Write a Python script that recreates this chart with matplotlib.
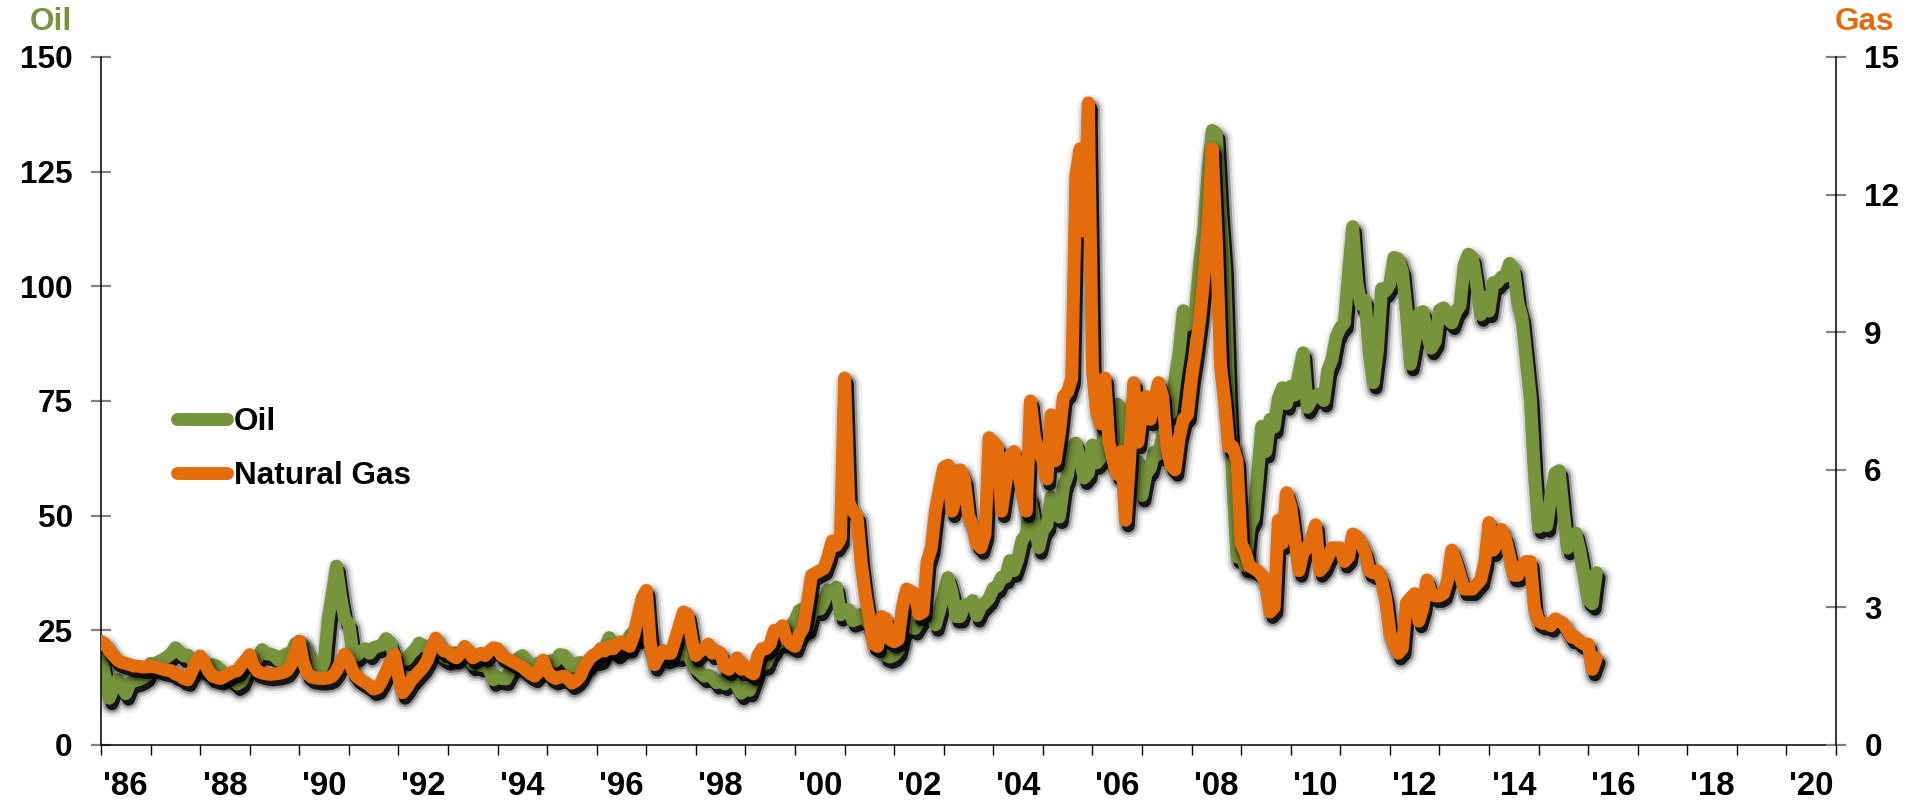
import numpy as np
import matplotlib
matplotlib.use("Agg")
import matplotlib.pyplot as plt
import matplotlib.patheffects as pe
from matplotlib.lines import Line2D
from matplotlib import font_manager

# monthly prices, Jan 1986 .. Mar 2016
start_year = 1986

oil = [
    19.8, 15.0, 10.2, 12.5, 14.3, 12.8, 11.2, 13.5, 14.0, 14.2, 14.6, 15.2,   # 1986
    17.8, 17.6, 18.2, 18.6, 19.2, 19.9, 21.2, 20.3, 19.4, 19.6, 18.6, 17.3,   # 1987
    16.9, 16.6, 16.1, 17.5, 17.2, 16.3, 15.3, 15.2, 14.2, 13.3, 13.9, 16.0,   # 1988
    17.8, 17.7, 19.3, 20.8, 19.9, 19.8, 19.5, 18.4, 19.4, 19.9, 19.7, 22.0,   # 1989
    22.6, 21.8, 20.0, 18.0, 17.6, 16.2, 18.0, 27.5, 33.0, 39.0, 32.5, 27.5,   # 1990
    26.5, 20.0, 19.6, 20.5, 21.0, 20.0, 21.2, 21.5, 21.8, 23.2, 22.3, 19.3,   # 1991
    18.6, 18.8, 18.7, 20.0, 20.8, 22.2, 21.6, 21.2, 21.7, 21.5, 20.1, 19.2,   # 1992
    18.8, 19.9, 20.1, 20.0, 19.7, 18.8, 17.6, 17.8, 17.3, 17.9, 16.3, 14.2,   # 1993
    14.8, 14.5, 14.4, 16.2, 17.7, 18.9, 19.5, 18.2, 17.2, 17.5, 17.9, 17.0,   # 1994
    17.9, 18.4, 18.3, 19.7, 19.6, 18.2, 17.1, 17.8, 18.0, 17.2, 17.8, 18.9,   # 1995
    18.7, 19.0, 21.2, 23.4, 21.0, 20.2, 21.1, 21.7, 23.8, 24.7, 23.5, 25.0,   # 1996
    25.0, 22.0, 20.8, 19.5, 20.6, 19.1, 19.5, 19.8, 19.6, 21.1, 20.0, 18.2,   # 1997
    16.6, 15.9, 15.0, 15.2, 14.8, 13.6, 14.0, 13.3, 14.9, 14.3, 12.8, 11.3,   # 1998
    12.4, 11.9, 14.5, 17.2, 17.6, 17.8, 20.0, 21.2, 23.7, 22.5, 24.9, 26.0,   # 1999
    27.2, 29.3, 29.7, 25.6, 28.7, 31.7, 29.6, 31.2, 33.8, 33.0, 34.4, 28.4,   # 2000
    29.5, 29.5, 27.1, 27.4, 28.5, 27.5, 26.3, 27.2, 26.0, 22.0, 19.5, 19.2,   # 2001
    19.6, 20.6, 24.4, 26.0, 27.0, 25.4, 26.9, 28.3, 29.6, 28.7, 26.2, 29.4,   # 2002
    32.9, 36.5, 33.4, 28.0, 28.0, 30.5, 30.6, 31.5, 28.2, 30.2, 31.0, 32.0,   # 2003
    34.2, 34.6, 36.6, 36.6, 40.2, 38.0, 40.7, 44.8, 45.9, 53.8, 48.4, 43.0,   # 2004
    46.7, 48.0, 54.1, 52.9, 49.7, 56.3, 58.9, 64.9, 65.8, 62.2, 58.2, 59.3,   # 2005
    65.4, 61.5, 62.6, 69.3, 70.8, 70.8, 74.3, 73.0, 63.7, 58.8, 59.0, 61.9,   # 2006
    54.4, 59.2, 60.3, 63.9, 63.4, 67.4, 74.0, 72.3, 79.8, 85.7, 94.7, 91.6,   # 2007
    92.9, 95.3, 105.4, 112.5, 125.3, 134.0, 133.3, 116.6, 104.0, 76.5, 57.2, 41.0,  # 2008
    41.6, 39.0, 47.8, 49.5, 59.0, 69.5, 64.0, 71.0, 69.3, 75.6, 77.9, 74.4,   # 2009
    78.2, 76.3, 81.1, 85.5, 73.6, 75.2, 76.2, 76.5, 75.1, 81.8, 84.1, 89.0,   # 2010
    91.0, 92.0, 103.0, 113.0, 101.0, 96.0, 97.0, 86.0, 79.0, 86.0, 99.5, 99.0,  # 2011
    100.5, 106.3, 106.0, 103.5, 94.5, 83.0, 88.0, 94.0, 94.5, 89.5, 86.5, 88.0,  # 2012
    94.8, 95.3, 93.0, 92.0, 94.5, 95.8, 104.7, 107.0, 106.3, 100.5, 93.8, 97.6,  # 2013
    94.6, 100.8, 100.8, 102.0, 102.2, 105.0, 103.6, 96.5, 93.2, 84.4, 75.8, 59.3,  # 2014
    47.5, 50.6, 47.8, 54.5, 59.3, 59.8, 50.9, 42.9, 45.5, 46.2, 42.4, 37.2,   # 2015
    31.7, 30.8, 37.6,                                                         # 2016
]

gas = [
    2.26, 2.20, 2.05, 1.95, 1.85, 1.80, 1.78, 1.75, 1.72, 1.72, 1.70, 1.70,   # 1986
    1.72, 1.70, 1.68, 1.65, 1.63, 1.62, 1.55, 1.52, 1.45, 1.42, 1.60, 1.80,   # 1987
    1.94, 1.80, 1.62, 1.50, 1.47, 1.45, 1.50, 1.55, 1.60, 1.62, 1.75, 1.85,   # 1988
    1.97, 1.72, 1.60, 1.57, 1.55, 1.54, 1.55, 1.56, 1.58, 1.62, 1.75, 2.00,   # 1989
    2.26, 1.80, 1.55, 1.48, 1.46, 1.45, 1.45, 1.46, 1.50, 1.62, 1.80, 1.98,   # 1990
    1.85, 1.60, 1.48, 1.42, 1.36, 1.30, 1.22, 1.25, 1.40, 1.60, 1.80, 1.97,   # 1991
    1.50, 1.14, 1.25, 1.40, 1.50, 1.60, 1.70, 1.85, 2.10, 2.33, 2.15, 2.05,   # 1992
    2.04, 1.95, 1.90, 2.00, 2.15, 2.05, 1.90, 1.95, 2.00, 1.95, 2.05, 2.12,   # 1993
    2.10, 1.95, 1.90, 1.85, 1.80, 1.75, 1.70, 1.62, 1.55, 1.50, 1.60, 1.85,   # 1994
    1.62, 1.50, 1.45, 1.48, 1.50, 1.45, 1.35, 1.40, 1.50, 1.70, 1.85, 1.95,   # 1995
    2.00, 2.10, 2.05, 2.15, 2.10, 2.20, 2.25, 2.20, 2.15, 2.40, 2.80, 3.20,   # 1996
    3.37, 2.20, 1.75, 1.92, 2.05, 2.00, 2.00, 2.30, 2.60, 2.90, 2.85, 2.30,   # 1997
    1.95, 2.05, 2.10, 2.20, 2.00, 2.05, 2.00, 1.70, 1.65, 1.75, 1.90, 1.65,   # 1998
    1.72, 1.60, 1.55, 1.95, 2.10, 2.10, 2.20, 2.50, 2.50, 2.60, 2.30, 2.20,   # 1999
    2.15, 2.40, 2.55, 3.10, 3.70, 3.75, 3.80, 3.85, 4.10, 4.45, 4.35, 4.50,   # 2000
    8.00, 5.30, 5.10, 5.00, 4.00, 3.30, 2.75, 2.20, 2.15, 2.80, 2.75, 2.30,   # 2001
    2.25, 2.30, 3.00, 3.40, 3.35, 3.30, 2.85, 2.90, 4.00, 4.30, 5.10, 5.60,   # 2002
    6.05, 6.10, 5.10, 5.40, 6.00, 5.80, 5.00, 4.80, 4.40, 4.30, 4.60, 6.70,   # 2003
    6.60, 6.50, 5.10, 5.70, 6.30, 6.40, 6.00, 5.50, 5.10, 7.50, 6.70, 6.40,   # 2004
    6.20, 5.80, 7.20, 6.20, 6.80, 7.60, 7.70, 8.00, 12.40, 13.00, 11.20, 14.00,  # 2005
    8.20, 7.30, 7.00, 8.00, 6.60, 6.20, 5.90, 6.40, 4.90, 6.20, 7.90, 6.60,   # 2006
    7.30, 7.60, 7.10, 7.50, 7.90, 7.60, 6.50, 6.10, 6.00, 6.70, 7.10, 7.20,   # 2007
    8.00, 8.60, 9.30, 10.20, 11.30, 13.00, 11.00, 8.30, 7.50, 6.50, 6.50, 6.20,  # 2008
    4.40, 4.20, 3.90, 3.85, 3.80, 3.70, 3.50, 2.90, 3.00, 4.90, 4.40, 5.50,   # 2009
    5.20, 4.50, 3.80, 4.20, 4.30, 4.50, 4.80, 3.80, 3.90, 4.10, 4.30, 4.30,   # 2010
    4.30, 4.00, 4.10, 4.60, 4.55, 4.40, 4.20, 3.80, 3.75, 3.80, 3.60, 3.20,   # 2011
    2.45, 2.20, 2.00, 2.10, 3.10, 3.20, 3.30, 2.70, 3.00, 3.60, 3.30, 3.25,   # 2012
    3.25, 3.30, 3.60, 4.25, 4.00, 3.70, 3.40, 3.40, 3.40, 3.50, 3.60, 4.00,   # 2013
    4.85, 4.25, 4.40, 4.70, 4.50, 4.10, 3.70, 3.70, 3.90, 4.00, 4.00, 3.00,   # 2014
    2.70, 2.65, 2.65, 2.60, 2.75, 2.70, 2.65, 2.50, 2.35, 2.35, 2.25, 2.20,   # 2015
    2.20, 1.65, 1.90,                                                         # 2016
]

oil_ticks = [0, 25, 50, 75, 100, 125, 150]
gas_ticks = [0, 3, 6, 9, 12, 15]
year_labels = list(range(1986, 2021, 2))

OIL_C = "#77933C"
GAS_C = "#E46C0A"
LW = 9.3

plt.rcParams["font.family"] = ["Liberation Sans", "DejaVu Sans"]
plt.rcParams["font.weight"] = "bold"
FS = 22.7

# the year labels are in a condensed face
names = {f.name for f in font_manager.fontManager.ttflist}
if "Liberation Sans Narrow" in names:
    XFONT, XFS = ["Liberation Sans Narrow", "Liberation Sans"], 25.5
else:
    XFONT, XFS = ["Liberation Sans", "DejaVu Sans"], 23.8


def shadow():
    # stacked strokes fake the soft drop shadow
    off = (2.0, -4.0)
    return [pe.SimpleLineShadow(offset=off, shadow_color="black", alpha=0.06, linewidth=LW + 11),
            pe.SimpleLineShadow(offset=off, shadow_color="black", alpha=0.12, linewidth=LW + 7),
            pe.SimpleLineShadow(offset=off, shadow_color="black", alpha=0.28, linewidth=LW + 3.5),
            pe.SimpleLineShadow(offset=off, shadow_color="black", alpha=0.85, linewidth=LW),
            pe.Normal()]


t_oil = start_year + np.arange(len(oil)) / 12.0
t_gas = start_year + np.arange(len(gas)) / 12.0

fig = plt.figure(figsize=(19.07, 8.01), dpi=100)
ax = fig.add_axes([101 / 1907, 56 / 801, (1836 - 101) / 1907, (745 - 57) / 801])
ax2 = ax.twinx()

ax.plot(t_oil, oil, color=OIL_C, lw=LW, solid_capstyle="round",
        solid_joinstyle="round", path_effects=shadow())
ax2.plot(t_gas, gas, color=GAS_C, lw=LW, solid_capstyle="round",
         solid_joinstyle="round", path_effects=shadow())

ax.set_xlim(1986, 2021)
ax.set_ylim(0, 150)
ax2.set_ylim(0, 15)
ax.set_yticks(oil_ticks)
ax2.set_yticks(gas_ticks)

# year ticks at boundaries, labels in the middle of even years
ax.set_xticks(range(1986, 2022))
ax.set_xticklabels([])
ax.set_xticks([y + 0.5 for y in year_labels], minor=True)
ax.set_xticklabels(["'%02d" % (y % 100) for y in year_labels], minor=True,
                   family=XFONT, fontsize=XFS)
ax.tick_params(axis="x", which="major", direction="out", length=7, width=1,
               color="black")
ax.tick_params(axis="x", which="minor", length=0, pad=18.5)

for a in (ax, ax2):
    a.tick_params(axis="y", direction="inout", length=13.7, width=1.6,
                  color="#808080", labelsize=FS, pad=13.5)
    a.spines["top"].set_visible(False)
ax.spines["right"].set_visible(False)
ax2.spines["left"].set_visible(False)
ax2.spines["bottom"].set_visible(False)
for s in ("left", "bottom"):
    ax.spines[s].set_linewidth(1.1)
ax2.spines["right"].set_linewidth(1.1)

fig.text(30 / 1907, 1 - 22 / 801, "Oil", color=OIL_C, fontsize=FS,
         ha="left", va="center")
fig.text(1894 / 1907, 1 - 22 / 801, "Gas", color=GAS_C, fontsize=FS,
         ha="right", va="center")

handles = [Line2D([], [], color=OIL_C, lw=LW, solid_capstyle="round"),
           Line2D([], [], color=GAS_C, lw=LW, solid_capstyle="round")]
fig.legend(handles, ["Oil", "Natural Gas"], loc="center left",
           bbox_to_anchor=(177 / 1907, 1 - 449 / 801), frameon=False,
           fontsize=FS, handlelength=1.6, handletextpad=0.2,
           labelspacing=0.75, borderpad=0, borderaxespad=0)

fig.savefig("out.png", dpi=100)
